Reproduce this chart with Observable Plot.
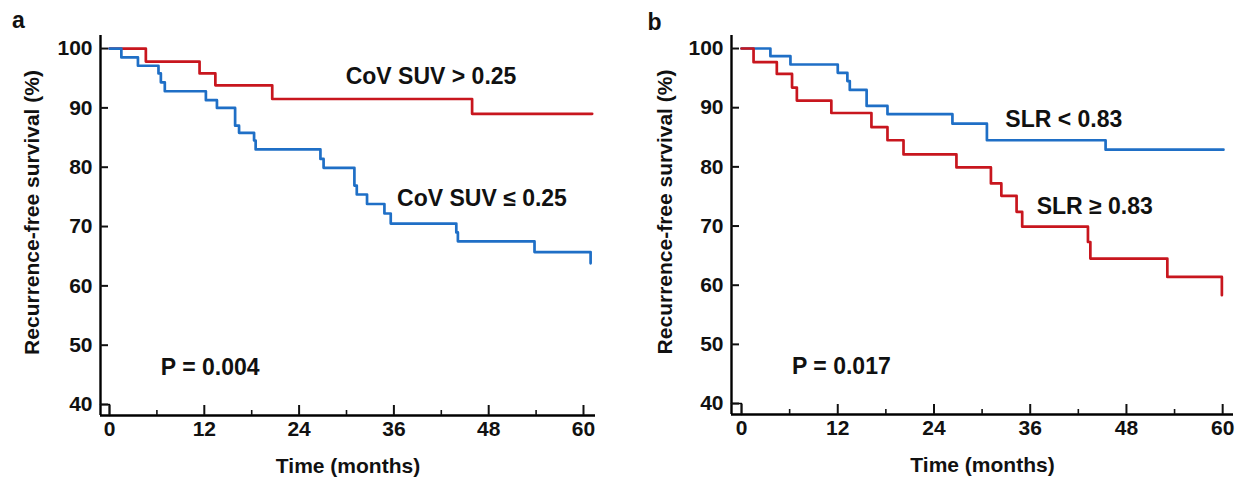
<!DOCTYPE html>
<html><head><meta charset="utf-8">
<script src="https://cdn.jsdelivr.net/npm/d3@7"></script>
<script src="https://cdn.jsdelivr.net/npm/@observablehq/plot@0.6"></script>
<style>
body{margin:0;background:#fff;}
#wrap{display:flex;width:1238px;height:478px;overflow:hidden;}
#wrap svg{display:block;}
</style></head><body><div id="wrap"></div>
<script>
// Axis ticks
const xTicks = [0, 12, 24, 36, 48, 60];
const xMinorTicks = [6, 18, 30, 42, 54];
const yTicks = [40, 50, 60, 70, 80, 90, 100];

// Panel a: CoV SUV
const timesA_high = [0, 4.6, 11.4, 13.4, 20.6, 45.9, 61.1];
const survA_high  = [100, 97.8, 95.8, 93.8, 91.5, 89.0, 89.0];
const timesA_low  = [0, 1.5, 3.6, 6.2, 6.5, 7.0, 12.2, 13.6, 15.9, 16.4, 18.3, 18.5, 26.7, 27.1, 31.0, 31.3, 32.6, 34.8, 35.6, 43.9, 44.1, 53.8, 60.9];
const survA_low   = [100, 98.5, 97.1, 95.8, 94.3, 92.8, 91.3, 90.0, 87.0, 85.8, 84.5, 83.0, 81.4, 79.9, 76.9, 75.4, 73.8, 72.2, 70.5, 69.0, 67.5, 65.7, 63.8];

// Panel b: SLR
const timesB_low  = [0, 3.6, 6.1, 12.0, 13.2, 13.5, 15.6, 18.2, 26.3, 30.6, 45.4, 60.1];
const survB_low   = [100, 98.7, 97.3, 95.9, 94.5, 93.0, 90.3, 88.9, 87.3, 84.5, 82.9, 82.9];
const timesB_high = [0, 1.5, 4.4, 6.3, 6.9, 11.2, 16.2, 18.2, 20.2, 26.8, 31.1, 32.4, 34.3, 35.0, 43.2, 43.5, 53.1, 59.9];
const survB_high  = [100, 97.7, 95.7, 93.4, 91.2, 89.1, 86.7, 84.5, 82.1, 79.9, 77.2, 75.1, 72.4, 69.9, 67.3, 64.5, 61.4, 58.3];

const labelsA = ["CoV SUV > 0.25", "CoV SUV \u2264 0.25"];
const labelsB = ["SLR < 0.83", "SLR \u2265 0.83"];
const pTexts = ["P = 0.004", "P = 0.017"];

const RED = "#c8161e";
const BLUE = "#1f6fc6";
const FONT = "'Liberation Sans', Arial, Helvetica, sans-serif";

function rows(times, surv, name) {
  return times.map((t, i) => ({t, s: surv[i], name}));
}

function panel({letter, width, marginLeft, marginRight, marginBottom, xDomain, series, annotations, pText, pPos, letterOffset, yLabelDx}) {
  const yDomain = [38.15, 102.2];
  const notch = [
    {t: xDomain[0], s: 40},
    {t: 0, s: 40},
    {t: 0, s: yDomain[0]}
  ];
  const marks = [
    Plot.ruleX([xDomain[0]], {stroke: "#000", strokeWidth: 2.4}),
    Plot.ruleY([yDomain[0]], {stroke: "#000", strokeWidth: 2.4}),
    Plot.line(notch, {x: "t", y: "s", stroke: "#000", strokeWidth: 1.6}),
    Plot.axisY({ticks: yTicks, tickSize: -8, tickPadding: 16, strokeWidth: 2, fontSize: 21, fontWeight: "bold", label: null, tickFormat: d => String(d)}),
    Plot.axisX({ticks: xTicks, tickSize: -10, tickPadding: 16, strokeWidth: 2, fontSize: 21, fontWeight: "bold", label: null, tickFormat: d => String(d)}),
    Plot.axisX({ticks: xMinorTicks, tickSize: -5, tickPadding: 0, strokeWidth: 1.6, fontSize: 1, label: null, tickFormat: () => ""}),
    ...series.map(sr => Plot.line(rows(sr.times, sr.surv, sr.name), {x: "t", y: "s", stroke: sr.color, strokeWidth: 2.7, curve: "step-after"})),
    ...annotations.map(a => Plot.text([a.text], {x: a.x, y: a.y, text: d => d, textAnchor: "start", fontSize: 23, fontWeight: "bold", fill: "#111"})),
    Plot.text([pText], {x: pPos[0], y: pPos[1], text: d => d, textAnchor: "start", fontSize: 23, fontWeight: "bold", fill: "#111"}),
    Plot.text(["Recurrence-free survival (%)"], {frameAnchor: "left", textAnchor: "middle", lineAnchor: "middle", rotate: -90, dx: yLabelDx, dy: -13, fontSize: 21, fontWeight: "bold", fill: "#111"}),
    Plot.text(["Time (months)"], {frameAnchor: "bottom", textAnchor: "middle", lineAnchor: "middle", dy: 51, fontSize: 21, fontWeight: "bold", fill: "#111"}),
    Plot.text([letter], {frameAnchor: "top-left", textAnchor: "middle", lineAnchor: "middle", dx: letterOffset[0], dy: letterOffset[1], fontSize: 23, fontWeight: "bold", fill: "#111"})
  ];
  return Plot.plot({
    width, height: 478,
    marginLeft, marginRight, marginTop: 35, marginBottom,
    x: {domain: xDomain},
    y: {domain: yDomain},
    style: {fontFamily: FONT, fontWeight: "bold", fontSize: "21px", color: "#111", background: "#fff", overflow: "visible"},
    marks
  });
}

const wrap = document.getElementById("wrap");
wrap.appendChild(panel({
  letter: "a", width: 619, marginLeft: 100, marginRight: 24, marginBottom: 63,
  xDomain: [-1.14, 61.52],
  series: [
    {times: timesA_high, surv: survA_high, color: RED, name: labelsA[0]},
    {times: timesA_low, surv: survA_low, color: BLUE, name: labelsA[1]}
  ],
  annotations: [
    {text: labelsA[0], x: 29.9, y: 95.2},
    {text: labelsA[1], x: 36.4, y: 74.7}
  ],
  pText: pTexts[0], pPos: [6.5, 46.3],
  letterOffset: [-82, -15], yLabelDx: -68
}));
wrap.appendChild(panel({
  letter: "b", width: 619, marginLeft: 112, marginRight: 5, marginBottom: 64,
  xDomain: [-1.25, 61.35],
  series: [
    {times: timesB_low, surv: survB_low, color: BLUE, name: labelsB[0]},
    {times: timesB_high, surv: survB_high, color: RED, name: labelsB[1]}
  ],
  annotations: [
    {text: labelsB[0], x: 32.9, y: 87.9},
    {text: labelsB[1], x: 36.8, y: 73.2}
  ],
  pText: pTexts[1], pPos: [6.3, 46.3],
  letterOffset: [-77, -13], yLabelDx: -66
}));
</script>
</body></html>
